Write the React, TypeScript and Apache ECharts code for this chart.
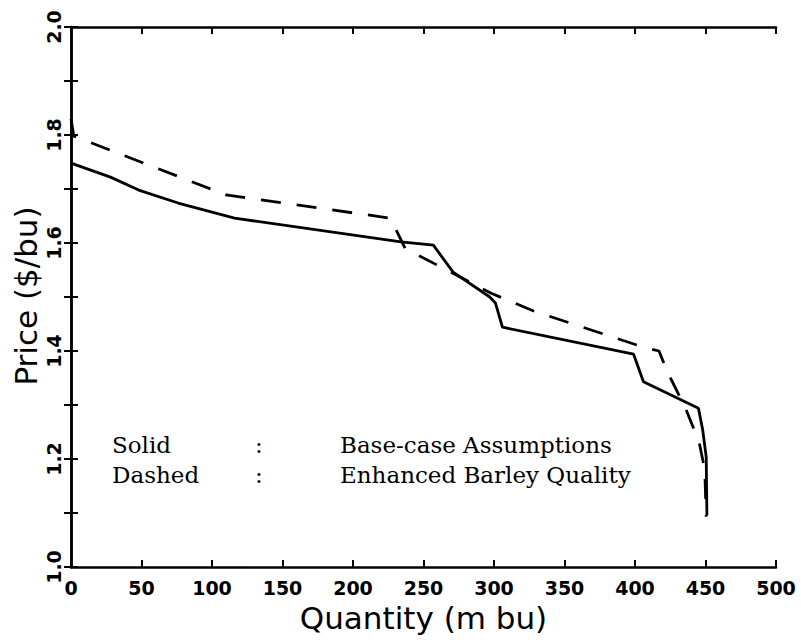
import React, { useEffect, useRef } from "react";
import * as echarts from "echarts";

// Solid line: Base-case Assumptions
const solidQty = [0, 28, 48, 76, 116, 234, 257, 271, 297, 301, 306, 399, 406, 445, 448, 450.5, 451];
const solidPrice = [1.748, 1.722, 1.698, 1.674, 1.646, 1.602, 1.596, 1.546, 1.5, 1.489, 1.444, 1.394, 1.343, 1.294, 1.254, 1.204, 1.096];

// Dashed line: Enhanced Barley Quality
const dashQty = [0, 2, 110, 226.5, 237, 298, 328, 406, 417, 423, 435.5, 445.5, 449.5, 450.5];
const dashPrice = [1.83, 1.798, 1.689, 1.646, 1.59, 1.507, 1.474, 1.407, 1.4, 1.361, 1.296, 1.231, 1.18, 1.093];

const xName = "Quantity (m bu)";
const yName = "Price ($/bu)";
const legendKeys = ["Solid", "Dashed"];
const legendLabels = ["Base-case Assumptions", "Enhanced Barley Quality"];

export default function App() {
  const ref = useRef<HTMLDivElement>(null);
  useEffect(() => {
    document.body.style.margin = "0";
    const chart = echarts.init(ref.current!, null, { renderer: "svg" });
    const sans = "DejaVu Sans";
    const serif = "DejaVu Serif";
    const axisLine = { show: true, lineStyle: { color: "#000", width: 2.5 } };
    const tick = { show: true, inside: true, length: 7, lineStyle: { color: "#000", width: 2 } };
    const graphics: any[] = [];
    legendKeys.forEach((k, i) => {
      const top = 433 + i * 30;
      graphics.push({ type: "text", left: 112, top, style: { text: k, font: `23px '${serif}'`, fill: "#000" } });
      graphics.push({ type: "text", left: 255, top, style: { text: ":", font: `23px '${serif}'`, fill: "#000" } });
      graphics.push({ type: "text", left: 340, top, style: { text: legendLabels[i], font: `23px '${serif}'`, fill: "#000" } });
    });
    graphics.push({
      type: "text",
      x: 26,
      y: 296,
      rotation: Math.PI / 2,
      style: { text: yName, font: `31px '${sans}'`, fill: "#000", align: "center", verticalAlign: "middle" },
    });
    chart.setOption({
      animation: false,
      backgroundColor: "#fff",
      grid: { left: 71, right: 25, top: 27, bottom: 75 },
      xAxis: [
        {
          type: "value",
          min: 0,
          max: 500,
          interval: 50,
          position: "bottom",
          axisLine,
          axisTick: tick,
          splitLine: { show: false },
          axisLabel: { color: "#000", fontFamily: sans, fontSize: 19, fontWeight: "bold", margin: 11 },
          name: xName,
          nameLocation: "middle",
          nameGap: 35,
          nameTextStyle: { color: "#000", fontFamily: sans, fontSize: 31 },
        },
        {
          type: "value",
          min: 0,
          max: 500,
          interval: 50,
          position: "top",
          axisLine,
          axisTick: tick,
          splitLine: { show: false },
          axisLabel: { show: false },
        },
      ],
      yAxis: [
        {
          type: "value",
          min: 1.0,
          max: 2.0,
          interval: 0.1,
          position: "left",
          axisLine,
          axisTick: tick,
          splitLine: { show: false },
          axisLabel: {
            color: "#000",
            fontFamily: sans,
            fontSize: 19,
            fontWeight: "bold",
            rotate: 90,
            margin: 8,
            formatter: (v: number) => (Math.round(v * 10) % 2 === 0 ? v.toFixed(1) : ""),
          },
        },
        {
          type: "value",
          min: 1.0,
          max: 2.0,
          interval: 0.1,
          position: "right",
          axisLine,
          axisTick: tick,
          splitLine: { show: false },
          axisLabel: { show: false },
        },
      ],
      series: [
        {
          type: "line",
          data: solidQty.map((q, i) => [q, solidPrice[i]]),
          showSymbol: false,
          lineStyle: { color: "#000", width: 2.8, type: "solid" },
          silent: true,
        },
        {
          type: "line",
          data: dashQty.map((q, i) => [q, dashPrice[i]]),
          showSymbol: false,
          lineStyle: { color: "#000", width: 2.8, type: [20, 16] },
          silent: true,
        },
      ],
      graphic: graphics,
    });
    return () => chart.dispose();
  }, []);
  return <div ref={ref} style={{ width: 801, height: 642, position: "absolute", left: 0, top: 0 }} />;
}
